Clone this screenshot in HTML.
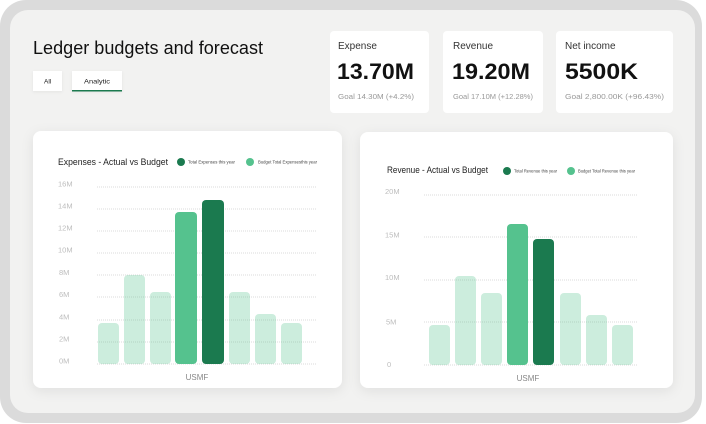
<!DOCTYPE html>
<html><head><meta charset="utf-8">
<style>
html,body{margin:0;padding:0;background:#fff;}
svg{display:block;font-family:"Liberation Sans",Arial,sans-serif;}
</style></head>
<body>
<svg width="706" height="424" viewBox="0 0 706 424" xmlns="http://www.w3.org/2000/svg">
<defs>
<filter id="sh" x="-10%" y="-10%" width="120%" height="130%">
<feDropShadow dx="0" dy="3" stdDeviation="6" flood-color="#000" flood-opacity="0.08"/>
</filter>
<filter id="sh2" x="-10%" y="-10%" width="120%" height="130%">
<feDropShadow dx="0" dy="1" stdDeviation="1.5" flood-color="#000" flood-opacity="0.06"/>
</filter>
</defs>
<rect x="0" y="0" width="702" height="423" rx="26" fill="#dbdbdb"/>
<rect x="10" y="10" width="685" height="403" rx="18" fill="#f2f2f1"/>

<text x="33" y="54" font-size="18" fill="#111" textLength="230" lengthAdjust="spacingAndGlyphs">Ledger budgets and forecast</text>

<rect x="33" y="71" width="29" height="20" fill="#fff" filter="url(#sh2)"/>
<text x="44" y="83.5" font-size="6.5" fill="#222">All</text>
<rect x="72" y="71" width="50" height="20" fill="#fff" filter="url(#sh2)"/>
<rect x="72" y="90" width="50" height="1.5" fill="#1b7a4f"/>
<text x="84" y="83.5" font-size="6.5" fill="#222" textLength="26" lengthAdjust="spacingAndGlyphs">Analytic</text>

<rect x="330" y="31" width="99" height="82" rx="4" fill="#fff"/>
<rect x="443" y="31" width="100" height="82" rx="4" fill="#fff"/>
<rect x="556" y="31" width="117" height="82" rx="4" fill="#fff"/>

<text x="338" y="49" font-size="10" fill="#333">Expense</text>
<text x="337" y="79" font-size="22.5" font-weight="bold" fill="#111" textLength="77" lengthAdjust="spacingAndGlyphs">13.70M</text>
<text x="338" y="99" font-size="7.5" fill="#999" textLength="76" lengthAdjust="spacingAndGlyphs">Goal 14.30M (+4.2%)</text>

<text x="453" y="49" font-size="10" fill="#333">Revenue</text>
<text x="452" y="79" font-size="22.5" font-weight="bold" fill="#111" textLength="78" lengthAdjust="spacingAndGlyphs">19.20M</text>
<text x="453" y="99" font-size="7.5" fill="#999" textLength="80" lengthAdjust="spacingAndGlyphs">Goal 17.10M (+12.28%)</text>

<text x="565" y="49" font-size="10" fill="#333">Net income</text>
<text x="565" y="79" font-size="22.5" font-weight="bold" fill="#111" textLength="73" lengthAdjust="spacingAndGlyphs">5500K</text>
<text x="565" y="99" font-size="7.5" fill="#999" textLength="99" lengthAdjust="spacingAndGlyphs">Goal 2,800.00K (+96.43%)</text>

<!-- Chart 1 card -->
<rect x="33" y="131" width="309" height="257" rx="8" fill="#fff" filter="url(#sh)"/>
<text x="58" y="165" font-size="9.5" fill="#222" textLength="110" lengthAdjust="spacingAndGlyphs">Expenses - Actual vs Budget</text>
<circle cx="181" cy="162" r="4" fill="#1b7a4f"/>
<text x="188" y="163.5" font-size="4.2" fill="#444" textLength="47" lengthAdjust="spacingAndGlyphs">Total Expenses this year</text>
<circle cx="250" cy="162" r="4" fill="#55c28e"/>
<text x="258" y="163.5" font-size="4.2" fill="#444" textLength="59" lengthAdjust="spacingAndGlyphs">Budget Total Expensesthis year</text>

<g stroke="#cfcfcf" stroke-width="0.8" stroke-dasharray="1 1">
<line x1="97" y1="187" x2="316" y2="187"/>
<line x1="97" y1="209" x2="316" y2="209"/>
<line x1="97" y1="231" x2="316" y2="231"/>
<line x1="97" y1="253" x2="316" y2="253"/>
<line x1="97" y1="275" x2="316" y2="275"/>
<line x1="97" y1="297" x2="316" y2="297"/>
<line x1="97" y1="320" x2="316" y2="320"/>
<line x1="97" y1="342" x2="316" y2="342"/>
<line x1="97" y1="364" x2="316" y2="364"/>
</g>
<g font-size="7.5" fill="#bdbdbd">
<text x="58" y="186.5">16M</text>
<text x="58" y="208.5">14M</text>
<text x="58" y="230.5">12M</text>
<text x="58" y="252.5">10M</text>
<text x="59" y="275">8M</text>
<text x="59" y="297">6M</text>
<text x="59" y="319.5">4M</text>
<text x="59" y="341.5">2M</text>
<text x="59" y="363.5">0M</text>
</g>
<g fill="#55c28e" fill-opacity="0.3">
<rect x="98" y="323" width="21" height="41" rx="4"/>
<rect x="124" y="275" width="21" height="89" rx="4"/>
<rect x="150" y="292" width="21" height="72" rx="4"/>
<rect x="229" y="292" width="21" height="72" rx="4"/>
<rect x="255" y="314" width="21" height="50" rx="4"/>
<rect x="281" y="323" width="21" height="41" rx="4"/>
</g>
<rect x="175" y="212" width="22" height="152" rx="4" fill="#55c28e"/>
<rect x="202" y="200" width="22" height="164" rx="4" fill="#1b7a4f"/>
<text x="197" y="380" font-size="8" fill="#888" text-anchor="middle">USMF</text>

<!-- Chart 2 card -->
<rect x="360" y="132" width="313" height="256" rx="8" fill="#fff" filter="url(#sh)"/>
<text x="387" y="173" font-size="9.5" fill="#222" textLength="101" lengthAdjust="spacingAndGlyphs">Revenue - Actual vs Budget</text>
<circle cx="507" cy="171" r="4" fill="#1b7a4f"/>
<text x="514" y="172.5" font-size="4.2" fill="#444" textLength="43" lengthAdjust="spacingAndGlyphs">Total Revenue this year</text>
<circle cx="571" cy="171" r="4" fill="#55c28e"/>
<text x="578" y="172.5" font-size="4.2" fill="#444" textLength="57" lengthAdjust="spacingAndGlyphs">Budget Total Revenue this year</text>

<g stroke="#cfcfcf" stroke-width="0.8" stroke-dasharray="1 1">
<line x1="424" y1="195" x2="638" y2="195"/>
<line x1="424" y1="237" x2="638" y2="237"/>
<line x1="424" y1="280" x2="638" y2="280"/>
<line x1="424" y1="322" x2="638" y2="322"/>
<line x1="424" y1="365" x2="638" y2="365"/>
</g>
<g font-size="7.5" fill="#bdbdbd">
<text x="385" y="194">20M</text>
<text x="385" y="237.5">15M</text>
<text x="385" y="280">10M</text>
<text x="386" y="324.5">5M</text>
<text x="387" y="367">0</text>
</g>
<g fill="#55c28e" fill-opacity="0.3">
<rect x="429" y="325" width="21" height="40" rx="4"/>
<rect x="455" y="276" width="21" height="89" rx="4"/>
<rect x="481" y="293" width="21" height="72" rx="4"/>
<rect x="560" y="293" width="21" height="72" rx="4"/>
<rect x="586" y="315" width="21" height="50" rx="4"/>
<rect x="612" y="325" width="21" height="40" rx="4"/>
</g>
<rect x="507" y="224" width="21" height="141" rx="4" fill="#55c28e"/>
<rect x="533" y="239" width="21" height="126" rx="4" fill="#1b7a4f"/>
<text x="528" y="381" font-size="8" fill="#888" text-anchor="middle">USMF</text>
</svg>
</body></html>
